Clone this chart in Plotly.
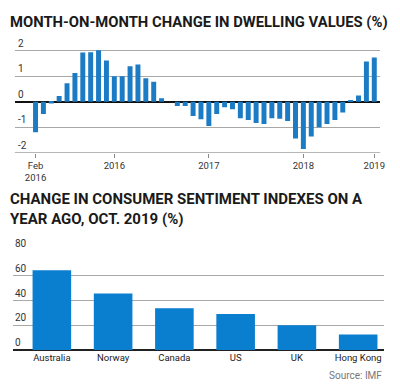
import plotly.graph_objects as go

# --- Data: month-on-month change in dwelling values (%), Feb 2016 .. Sep 2019
month_index = list(range(44))
dwelling_change = [
    -1.20, -0.48, -0.07, 0.22, 0.72, 1.12, 1.92, 1.93, 2.01, 1.61,
    0.99, 0.99, 1.39, 1.45, 0.92, 0.78, 0.13, 0.00, -0.17, -0.17,
    -0.56, -0.69, -0.95, -0.48, -0.22, -0.30, -0.65, -0.72, -0.84, -0.88,
    -0.65, -0.67, -0.76, -1.44, -1.86, -1.37, -1.00, -0.88, -0.72, -0.43,
    0.05, 0.24, 1.57, 1.73,
]
top_tick_vals = [0, 10, 22, 34, 43]
top_tick_text = ["Feb<br>2016", "2016", "2017", "2018", "2019"]
top_y_ticks = [-2, -1, 0, 1, 2]

# --- Data: change in consumer sentiment indexes on a year ago, Oct 2019 (%)
countries = ["Australia", "Norway", "Canada", "US", "UK", "Hong Kong"]
sentiment_change = [64.4, 45.6, 33.8, 29.0, 20.1, 12.6]
bottom_y_ticks = [0, 20, 40, 60, 80]

FONT = "Roboto, sans-serif"
GRID = "#a8a8a8"
TXT = "#333333"

fig = go.Figure()

fig.add_trace(go.Bar(
    x=month_index, y=dwelling_change,
    marker=dict(color="#1b7bc4", line=dict(width=0)),
    xaxis="x", yaxis="y", showlegend=False,
))
fig.add_trace(go.Bar(
    x=countries, y=sentiment_change,
    marker=dict(color="#0a7ecf", line=dict(width=0)),
    xaxis="x2", yaxis="y2", showlegend=False,
))

fig.update_layout(
    width=400, height=385,
    margin=dict(l=0, r=0, t=0, b=0),
    paper_bgcolor="white", plot_bgcolor="white",
    bargap=0.37,
    font=dict(family=FONT, size=10, color=TXT),
    xaxis=dict(
        domain=[0.0375, 0.9625], range=[-2.63, 43.75],
        tickmode="array", tickvals=top_tick_vals, ticktext=top_tick_text,
        showgrid=False, zeroline=False, showline=False,
        ticks="outside", ticklen=4, tickcolor="#888", tickwidth=1,
        tickfont=dict(family=FONT, size=9.5, color=TXT),
        anchor="y",
    ),
    yaxis=dict(
        domain=[1 - 152.7/385, 1 - 48/385], range=[-2, 2.1],
        tickmode="array", tickvals=top_y_ticks,
        showgrid=True, gridcolor=GRID, gridwidth=1,
        zeroline=True, zerolinecolor="#111", zerolinewidth=1.6,
        showticklabels=False, ticks="",
        anchor="x",
    ),
    xaxis2=dict(
        domain=[0.0325, 0.9725], range=[-0.637, 5.424],
        type="category",
        showgrid=False, zeroline=False, showline=False, ticks="",
        tickfont=dict(family=FONT, size=9.5, color="#222"),
        anchor="y2",
    ),
    yaxis2=dict(
        domain=[1 - 350/385, 1 - 251/385], range=[0, 80],
        tickmode="array", tickvals=bottom_y_ticks,
        showgrid=True, gridcolor=GRID, gridwidth=1,
        zeroline=True, zerolinecolor="#222", zerolinewidth=1.6,
        showticklabels=False, ticks="",
        anchor="x2",
    ),
)

# bottom axis line of the top chart (at -2)
fig.add_shape(type="line", xref="x domain", yref="y", x0=0, x1=1, y0=-2, y1=-2,
              line=dict(color="#888", width=1))

# y tick labels sitting above their gridlines
for v in top_y_ticks:
    fig.add_annotation(text=str(v), xref="paper", yref="y", x=16/400, y=v,
                       xanchor="left", yanchor="bottom", yshift=0, showarrow=False,
                       font=dict(family=FONT, size=10, color=TXT))
for v in bottom_y_ticks:
    fig.add_annotation(text=str(v), xref="paper", yref="y2", x=13/400, y=v,
                       xanchor="left", yanchor="bottom", yshift=0, showarrow=False,
                       font=dict(family=FONT, size=10, color=TXT))

fig.add_annotation(
    text="<b>MONTH-ON-MONTH CHANGE IN DWELLING VALUES (%)</b>",
    xref="paper", yref="paper", x=8/400, y=1 - 22/385,
    xanchor="left", yanchor="middle", showarrow=False,
    font=dict(family=FONT, size=14.8, color="#1a1a1a"),
)
fig.add_annotation(
    text="<b>CHANGE IN CONSUMER SENTIMENT INDEXES ON A<br>YEAR AGO, OCT. 2019 (%)</b>",
    xref="paper", yref="paper", x=8/400, y=1 - 208.5/385,
    xanchor="left", yanchor="middle", align="left", showarrow=False,
    font=dict(family=FONT, size=15, color="#1a1a1a"),
)
fig.add_annotation(
    text="Source: IMF",
    xref="paper", yref="paper", x=389/400, y=1 - 375.5/385,
    xanchor="right", yanchor="middle", showarrow=False,
    font=dict(family=FONT, size=10, color="#777"),
)

fig.write_html("out.html", config={"displayModeBar": False},
               post_script="document.body.style.margin='0';document.body.style.overflow='hidden';")
